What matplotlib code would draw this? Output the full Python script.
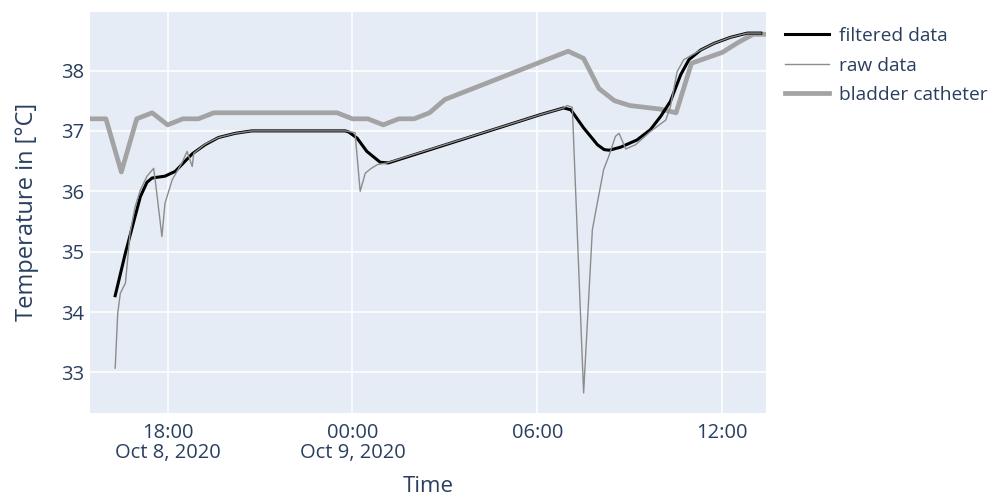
"""Core temperature: filtered vs raw sensor data vs bladder catheter reference."""

import matplotlib
matplotlib.use("Agg")
import matplotlib.pyplot as plt
import pandas as pd

DAY1 = "2020-10-08 "
DAY2 = "2020-10-09 "

FILTERED_TIME = [DAY1 + t for t in ["16:18", "16:38", "17:07", "17:20", "17:30", "17:55",
                                    "18:15", "18:48", "19:13", "19:39", "20:12", "20:44",
                                    "23:46", "23:53"]] + \
                [DAY2 + t for t in ["00:09", "00:28", "00:54", "01:10", "06:06", "06:51",
                                    "07:05", "07:30", "07:57", "08:10", "08:20", "08:42",
                                    "09:14", "09:40", "10:00", "10:19", "10:39", "10:55",
                                    "11:18", "11:44", "12:16", "12:49", "13:15"]]
FILTERED_TEMP = [34.27, 34.98, 35.91, 36.15, 36.22, 36.25,
                 36.33, 36.62, 36.77, 36.89, 36.96, 37.0,
                 37.0, 36.98,
                 36.88, 36.66, 36.48, 36.47, 37.27, 37.38,
                 37.35, 37.05, 36.77, 36.69, 36.68, 36.73,
                 36.85, 37.02, 37.24, 37.49, 37.93, 38.18,
                 38.34, 38.45, 38.55, 38.62, 38.62]

RAW_TIME = [DAY1 + t for t in ["16:18", "16:23", "16:28", "16:38", "16:47", "16:57",
                               "17:07", "17:20", "17:33", "17:39", "17:49", "17:55",
                               "18:09", "18:28", "18:38", "18:48", "18:51", "19:13",
                               "19:39", "20:12", "20:44", "23:46"]] + \
           [DAY2 + t for t in ["00:05", "00:15", "00:25", "00:35", "00:48", "01:07",
                               "06:06", "06:51", "06:58", "07:08", "07:30", "07:47",
                               "07:53", "08:09", "08:19", "08:32", "08:39", "08:52",
                               "09:11", "09:40", "10:10", "10:19", "10:32", "10:45",
                               "11:18", "11:44", "12:16", "12:49", "13:15"]]
RAW_TEMP = [33.07, 33.98, 34.31, 34.48, 35.31, 35.75,
            36.02, 36.25, 36.38, 35.97, 35.25, 35.80,
            36.19, 36.47, 36.66, 36.41, 36.63, 36.78,
            36.89, 36.96, 37.0, 37.0,
            36.97, 36.0, 36.30, 36.37, 36.44, 36.47,
            37.27, 37.38, 37.42, 37.39, 32.66, 35.36,
            35.64, 36.36, 36.58, 36.91, 36.96, 36.70,
            36.77, 36.99, 37.18, 37.40, 37.98, 38.18,
            38.34, 38.45, 38.55, 38.62, 38.62]

BLADDER_TIME = [DAY1 + t for t in ["15:30", "16:00", "16:30", "17:00", "17:30", "18:00",
                                   "18:30", "19:00", "19:30", "23:30"]] + \
               [DAY2 + t for t in ["00:00", "00:30", "01:00", "01:30", "02:00", "02:30",
                                   "03:00", "07:00", "07:30", "08:00", "08:30", "09:00",
                                   "10:00", "10:30", "11:00", "12:00", "12:30", "13:00",
                                   "13:30"]]
BLADDER_TEMP = [37.2, 37.2, 36.32, 37.2, 37.3, 37.1,
                37.2, 37.2, 37.3, 37.3,
                37.2, 37.2, 37.1, 37.2, 37.2, 37.3,
                37.52, 38.32, 38.2, 37.7, 37.5, 37.42,
                37.36, 37.3, 38.12, 38.3, 38.46, 38.6,
                38.6]

TICK_TIMES = [DAY1 + "18:00", DAY2 + "00:00", DAY2 + "06:00", DAY2 + "12:00"]
TICK_LABELS = ["18:00\nOct 8, 2020", "00:00\nOct 9, 2020", "06:00", "12:00"]
Y_TICKS = [33, 34, 35, 36, 37, 38]

TEXT = "#2a3f5f"
plt.rcParams["font.family"] = ["Open Sans", "DejaVu Sans"]


def main():
    fig = plt.figure(figsize=(9.89, 4.98), dpi=100)
    ax = fig.add_axes([0.091, 0.171, 0.684, 0.805])
    ax.set_facecolor("#e5ecf6")

    ax.plot(pd.to_datetime(FILTERED_TIME), FILTERED_TEMP, color="black",
            lw=2.2, label="filtered data", zorder=3, solid_joinstyle="round")
    ax.plot(pd.to_datetime(RAW_TIME), RAW_TEMP, color="#8c8c8c",
            lw=1.0, label="raw data", zorder=4)
    ax.plot(pd.to_datetime(BLADDER_TIME), BLADDER_TEMP, color="#a3a3a3",
            lw=3.4, label="bladder catheter", zorder=2)

    ax.set_xlim(pd.Timestamp(DAY1 + "15:29"), pd.Timestamp(DAY2 + "13:26"))
    ax.set_ylim(32.33, 38.97)
    ax.set_xticks(pd.to_datetime(TICK_TIMES))
    ax.set_xticklabels(TICK_LABELS)
    ax.set_yticks(Y_TICKS)

    ax.grid(True, color="white", lw=1.1)
    ax.set_axisbelow(True)
    for s in ax.spines.values():
        s.set_visible(False)
    ax.tick_params(length=0, labelsize=14.5, colors=TEXT)
    ax.tick_params(axis="y", pad=4)
    ax.tick_params(axis="x", pad=7)
    for lab in ax.get_xticklabels():
        lab.set_linespacing(1.05)

    ax.set_xlabel("Time", fontsize=16, color=TEXT, labelpad=9)
    ax.set_ylabel("Temperature in [°C]", fontsize=17, color=TEXT, labelpad=16)

    leg = ax.legend(loc="upper left", bbox_to_anchor=(1.002, 1.005), frameon=False,
                    fontsize=13.8, handlelength=2.3, handletextpad=0.5,
                    labelspacing=0.6)
    for t in leg.get_texts():
        t.set_color(TEXT)

    fig.savefig("out.png")
    plt.close(fig)


if __name__ == "__main__":
    main()
